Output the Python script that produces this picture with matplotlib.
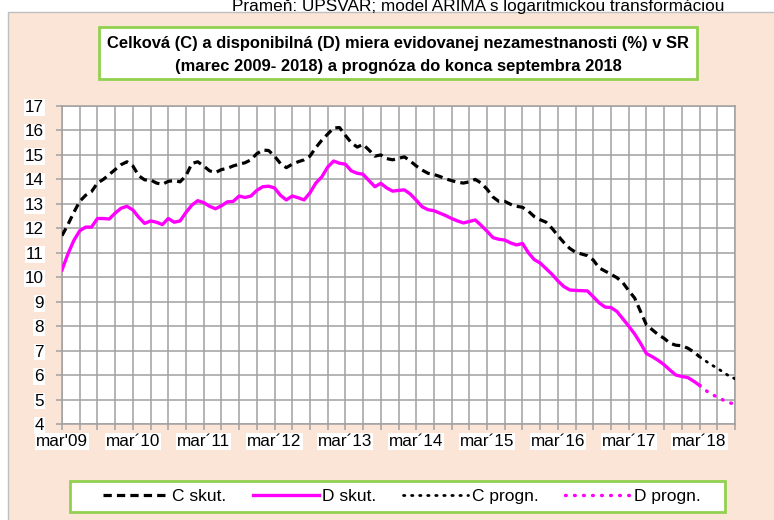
#!/usr/bin/env python3
"""Celkova a disponibilna miera evidovanej nezamestnanosti v SR, 2009-2018 + prognoza."""

import numpy as np
import matplotlib
matplotlib.use("Agg")
import matplotlib.pyplot as plt
from matplotlib import font_manager
from matplotlib.patches import Rectangle

# monthly values, mar'09 (index 0) .. mar'18 (index 108)
c_skut = [
    11.70, 12.15, 12.65, 13.10, 13.35, 13.50, 13.85, 14.00, 14.20, 14.40, 14.60, 14.72,
    14.55, 14.15, 13.98, 13.98, 13.85, 13.80, 13.92, 13.95, 13.90, 14.15, 14.65, 14.72,
    14.55, 14.35, 14.28, 14.40, 14.45, 14.55, 14.62, 14.68, 14.80, 15.05, 15.20, 15.18,
    14.95, 14.65, 14.48, 14.62, 14.72, 14.80, 14.95, 15.30, 15.60, 15.85, 16.10, 16.12,
    15.80, 15.50, 15.32, 15.43, 15.20, 14.95, 15.00, 14.85, 14.80, 14.86, 14.92, 14.75,
    14.55, 14.38, 14.25, 14.20, 14.12, 14.02, 13.95, 13.88, 13.85, 13.90, 14.00, 13.85,
    13.60, 13.28, 13.10, 13.10, 12.98, 12.90, 12.86, 12.70, 12.48, 12.35, 12.25, 12.00,
    11.70, 11.42, 11.18, 11.02, 10.95, 10.88, 10.70, 10.38, 10.25, 10.12, 9.98, 9.78,
    9.45, 9.15, 8.60, 8.05, 7.85, 7.65, 7.50, 7.30, 7.22, 7.20, 7.10, 6.95,
    6.75,
]
d_skut = [
    10.30, 10.95, 11.50, 11.90, 12.05, 12.05, 12.40, 12.40, 12.38, 12.62, 12.82, 12.90,
    12.75, 12.45, 12.20, 12.30, 12.25, 12.15, 12.40, 12.25, 12.30, 12.65, 12.95, 13.13,
    13.05, 12.90, 12.80, 12.92, 13.08, 13.10, 13.32, 13.26, 13.32, 13.55, 13.70, 13.72,
    13.65, 13.35, 13.16, 13.32, 13.25, 13.16, 13.45, 13.85, 14.10, 14.50, 14.75, 14.66,
    14.62, 14.35, 14.25, 14.21, 13.95, 13.70, 13.84, 13.65, 13.52, 13.55, 13.57, 13.40,
    13.15, 12.88, 12.76, 12.72, 12.62, 12.52, 12.40, 12.30, 12.22, 12.28, 12.34, 12.12,
    11.88, 11.62, 11.55, 11.52, 11.40, 11.32, 11.38, 11.00, 10.72, 10.58, 10.35, 10.12,
    9.85, 9.62, 9.48, 9.46, 9.45, 9.44, 9.20, 8.95, 8.78, 8.76, 8.60, 8.30,
    8.00, 7.68, 7.30, 6.88, 6.75, 6.60, 6.42, 6.20, 6.00, 5.94, 5.90, 5.75,
    5.58,
]
# forecast mar'18 .. sep'18
c_progn = [6.75, 6.58, 6.42, 6.28, 6.12, 5.96, 5.85]
d_progn = [5.58, 5.38, 5.22, 5.10, 4.98, 4.88, 4.80]

year_labels = ["mar'09", "mar´10", "mar´11", "mar´12", "mar´13",
               "mar´14", "mar´15", "mar´16", "mar´17", "mar´18"]

PEACH = "#FBE5D6"
GREEN = "#92D050"
GRID = "#A0A0A0"
MAGENTA = "#FF00FF"

names = {f.name for f in font_manager.fontManager.ttflist}
if "Liberation Sans Narrow" in names:
    FONT, k = "Liberation Sans Narrow", 1.2
else:
    FONT, k = "Liberation Sans", 1.0
plt.rcParams["font.family"] = [FONT, "DejaVu Sans"]

W, H = 774, 520
fig = plt.figure(figsize=(W / 100, H / 100), dpi=100)
fig.patch.set_facecolor("white")


def fx(px):
    return px / W


def fy(py):
    return 1 - py / H


# chart area background
fig.patches.append(Rectangle((fx(8), -0.1), 1.2, fy(12) + 0.1, transform=fig.transFigure,
                             facecolor=PEACH, edgecolor="#BFBFBF", lw=1, zorder=-1))

fig.text(fx(478), fy(11), "Prameň: ÚPSVAR; model ARIMA s logaritmickou transformáciou",
         ha="center", va="baseline", fontsize=12.4 * k, zorder=1)

# title box
fig.patches.append(Rectangle((fx(99), fy(79)), fx(697 - 99), (79 - 27) / H,
                             transform=fig.transFigure, facecolor="white",
                             edgecolor=GREEN, lw=2, zorder=2))
fig.text(fx(398), fy(48), "Celková (C) a disponibilná (D) miera evidovanej nezamestnanosti (%) v SR",
         ha="center", va="baseline", fontsize=11.9 * k, fontweight="bold", zorder=3)
fig.text(fx(398), fy(71), "(marec 2009- 2018) a prognóza do konca septembra 2018",
         ha="center", va="baseline", fontsize=11.9 * k, fontweight="bold", zorder=3)

# legend box
fig.patches.append(Rectangle((fx(70), fy(512)), fx(725 - 70), (512 - 481) / H,
                             transform=fig.transFigure, facecolor="white",
                             edgecolor=GREEN, lw=2, zorder=2))

ax = fig.add_axes([fx(62), fy(424), fx(735 - 62), (424 - 106) / H])
ax.set_zorder(1)
ax.set_facecolor("white")

x_act = np.arange(len(c_skut))
x_prg = np.arange(len(c_skut) - 1, len(c_skut) - 1 + len(c_progn))

ax.plot(x_act, c_skut, color="black", lw=2.3, linestyle=(0, (2.6, 1.6)), label="C skut.", zorder=4)
ax.plot(x_act, d_skut, color=MAGENTA, lw=2.4, label="D skut.", zorder=4)
ax.plot(x_prg, c_progn, color="black", lw=2.0, linestyle=(0, (0.5, 2.4)),
        dash_capstyle="round", label="C progn.", zorder=4)
ax.plot(x_prg, d_progn, color=MAGENTA, lw=2.5, linestyle=(0, (0.2, 2.4)),
        dash_capstyle="round", label="D progn.", zorder=4)

ax.set_xlim(0, 114)
ax.set_ylim(4, 17)
ax.set_yticks(range(4, 18))
ax.set_xticks(np.arange(0, 109, 12))
ax.set_xticks(np.arange(0, 115, 3), minor=True)
ax.set_xticklabels(year_labels)
ax.grid(True, which="both", color=GRID, lw=1.1, zorder=1)
ax.set_axisbelow(True)
for sp in ax.spines.values():
    sp.set_color(GRID)
    sp.set_linewidth(1.1)
ax.tick_params(axis="both", which="both", color=GRID, width=1.1, length=4, labelsize=12.3 * k)
ax.tick_params(axis="y", pad=9)
ax.tick_params(axis="x", pad=3)
for lbl in ax.get_xticklabels() + ax.get_yticklabels():
    lbl.set_bbox(dict(facecolor="white", edgecolor="none", pad=0.6))

leg = fig.legend(loc="center", bbox_to_anchor=(fx(402), fy(496.5)),
                 ncol=4, frameon=False, fontsize=12.5 * k,
                 handlelength=3.8, handletextpad=0.2, columnspacing=1.5, borderaxespad=0)
leg.set_zorder(3)

fig.savefig("out.png", dpi=100, facecolor=fig.get_facecolor())
